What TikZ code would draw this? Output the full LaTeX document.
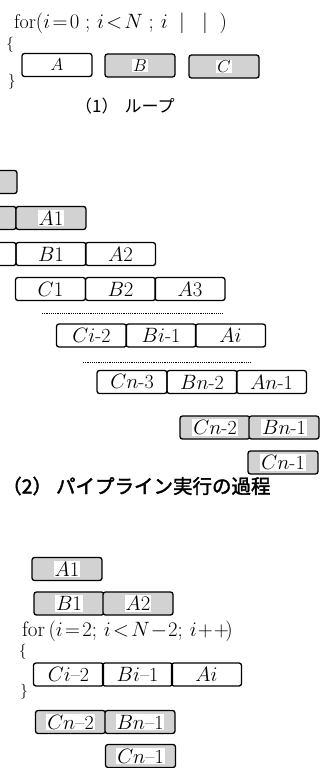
\documentclass[tikz,border=0pt]{standalone}
\usepackage{fontspec}
\newfontfamily\jp{Noto Sans CJK JP}
\newfontfamily\jpb[FakeBold=2]{Noto Sans CJK JP}
\begin{document}
\begin{tikzpicture}[x=1pt,y=-1pt,
  box/.style={draw, line width=1.3pt, rounded corners=2.5pt, minimum width=70pt,
    minimum height=23pt, inner sep=0pt, font=\fontsize{20}{20}\selectfont},
  sboxe/.style={box, fill=gray!35},
  sbox/.style={box, fill=gray!35,
    label={[fill=white, inner sep=1pt, font=\fontsize{20}{20}\selectfont]center:#1}},
  dots/.style={line width=1pt, dash pattern=on 1.2pt off 1pt},
  brace/.style={font=\fontsize{15}{15}\selectfont, inner sep=0pt}]
\clip (0,0) rectangle (320,768);
\fill[white] (0,0) rectangle (320,768);
% ---- (1) loop
\node[anchor=base west, inner sep=0pt, font=\fontsize{20}{22}\selectfont] (for1) at (14,29)
  {for$(i\!=\!0\;;\,i\!<\!N\;;\,i\;\;|\;\;\;|\;\;)$};
\node[brace] (lb1) at (10,45) {\{};
\node[brace] (rb1) at (12,82) {\}};
\node[box, font=\fontsize{18}{18}\selectfont] (A) at (57,65) {$A$};
\node[box, fill=gray!35, label={[fill=white, inner sep=1pt, font=\fontsize{18}{18}\selectfont]center:$B$}] (B) at (140,65.5) {};
\node[box, fill=gray!35, label={[fill=white, inner sep=1pt, font=\fontsize{18}{18}\selectfont]center:$C$}] (C) at (224,66.5) {};
\node[anchor=west, inner sep=0pt, font=\jp\fontsize{17}{17}\selectfont] (cap1) at (75,106) {（1）\hspace{6pt}ループ};
% ---- (2) pipeline
\node[sboxe] (p0) at (-18,182) {};
\node[sboxe] (q0) at (-19,218) {};
\node[sbox=$A1$] (qa1) at (51,218) {};
\node[box] (r0) at (-19,254) {};
\node[box] (rb1) at (51,254) {$B1$};
\node[box] (ra2) at (120.5,254) {$A2$};
\node[box] (sc1) at (50.5,289) {$C1$};
\node[box] (sb2) at (120.5,289) {$B2$};
\node[box] (sa3) at (190,289) {$A3$};
\coordinate (d1s) at (42,313);
\coordinate (d1e) at (223,313);
\draw[dots] (d1s) -- (d1e);
\node[box] (tci) at (91.5,335.5) {$Ci$-2};
\node[box] (tbi) at (161,335.5) {$Bi$-1};
\node[box] (tai) at (230.5,335.5) {$Ai$};
\coordinate (d2s) at (83,362);
\coordinate (d2e) at (251,362);
\draw[dots] (d2s) -- (d2e);
\node[box] (ucn) at (132,382) {$Cn$-3};
\node[box] (ubn) at (202,382) {$Bn$-2};
\node[box] (uan) at (271.5,382) {$An$-1};
\node[sbox=$Cn$-2] (vcn) at (215,427.5) {};
\node[sbox=$Bn$-1] (vbn) at (284,427.5) {};
\node[sbox=$Cn$-1] (wcn) at (283,462.5) {};
\node[anchor=west, inner sep=0pt, font=\jpb\fontsize{19.5}{20}\selectfont] (cap2) at (2,486)
  {（2）\hspace{4pt}パイプライン実行の過程};
% ---- (3) restructured loop
\node[sbox=$A1$] (xa1) at (67,569) {};
\node[sbox=$B1$] (yb1) at (69,603.5) {};
\node[sbox=$A2$] (ya2) at (138,603.5) {};
\node[anchor=base west, inner sep=0pt, font=\fontsize{21}{22}\selectfont] (for2) at (22,636)
  {for\,$(i\!=\!2;\,i\!<\!N\!-\!2;\,i\!+\!+\!)$};
\node[brace] (lb2) at (23,652) {\{};
\node[box] (zci) at (68.5,674.5) {$Ci$--2};
\node[box] (zbi) at (137.5,674.5) {$Bi$--1};
\node[box] (zai) at (206.5,674.5) {$Ai$};
\node[brace] (rb2) at (24,692) {\}};
\node[sbox=$Cn$--2] (mcn) at (70.5,722) {};
\node[sbox=$Bn$--1] (mbn) at (140,722) {};
\node[sbox=$Cn$--1] (ncn) at (140.5,756) {};
\end{tikzpicture}
\end{document}
